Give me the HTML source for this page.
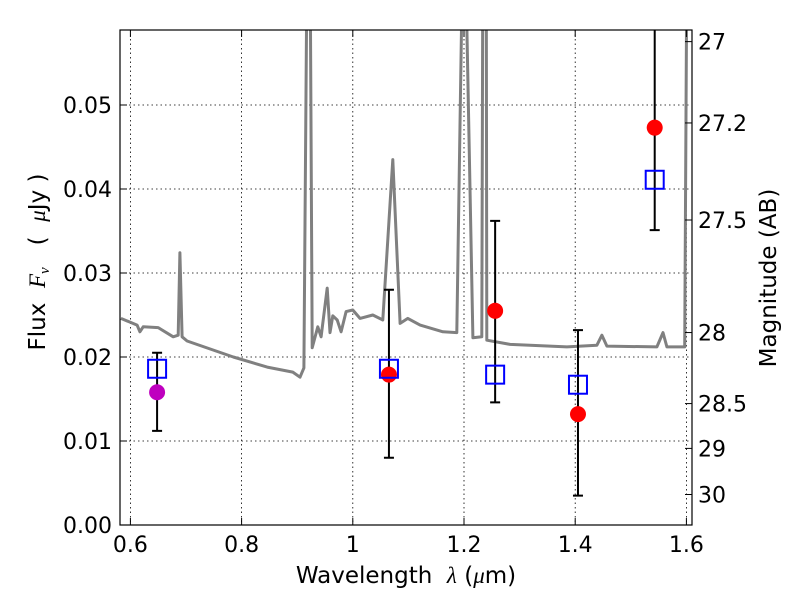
<!DOCTYPE html>
<html><head><meta charset="utf-8">
<style>
body{margin:0;background:#fff;}
svg{display:block;font-family:"DejaVu Sans","Liberation Sans",sans-serif;}
.pre{white-space:pre;}
</style></head>
<body>
<svg id="chart" width="800" height="600" viewBox="0 0 800 600">
<defs><clipPath id="plotclip"><rect x="120" y="30" width="572" height="495"/></clipPath></defs>
<rect x="0" y="0" width="800" height="600" fill="#fff"/>
<g id="grid"></g>
<g id="spec" clip-path="url(#plotclip)"></g>
<g id="pts" clip-path="url(#plotclip)"></g>
<rect x="120" y="30" width="572" height="495" fill="none" stroke="#000" stroke-width="1.2"/>
<g id="axes"></g>
<text class="pre" x="406" y="583" font-size="23" text-anchor="middle">Wavelength  <tspan font-family="Liberation Serif, serif" font-style="italic">λ</tspan> (<tspan font-family="Liberation Serif, serif" font-style="italic">μ</tspan>m)</text>
<text class="pre" transform="translate(45,262) rotate(-90)" font-size="23" text-anchor="middle">Flux  <tspan font-family="Liberation Serif, serif" font-style="italic">F<tspan font-size="15" dy="4">ν</tspan></tspan><tspan dy="-4">   (  </tspan><tspan font-family="Liberation Serif, serif" font-style="italic">μ</tspan>Jy )</text>
<text transform="translate(776,278) rotate(-90)" font-size="23" text-anchor="middle">Magnitude (AB)</text>
</svg>
<script>
const specW=[0.583,0.612,0.617,0.623,0.650,0.677,0.686,0.689,0.693,0.702,0.785,0.846,0.892,0.905,0.912,0.918,0.923,0.927,0.937,0.943,0.954,0.959,0.964,0.972,0.979,0.988,1.000,1.013,1.036,1.054,1.072,1.085,1.099,1.121,1.162,1.187,1.198,1.202,1.216,1.232,1.234,1.240,1.241,1.283,1.385,1.439,1.448,1.457,1.547,1.558,1.565,1.597,1.601];
const specF=[0.0246,0.0238,0.0230,0.0236,0.0235,0.0224,0.0226,0.0324,0.0224,0.0219,0.0200,0.0188,0.0182,0.0176,0.0187,0.07,0.07,0.0211,0.0236,0.0224,0.0282,0.0229,0.0249,0.0244,0.0230,0.0254,0.0256,0.0246,0.0250,0.0244,0.0435,0.0240,0.0246,0.0238,0.0230,0.0229,0.07,0.07,0.0223,0.0224,0.07,0.07,0.0220,0.0215,0.0212,0.0214,0.0226,0.0213,0.0212,0.0229,0.0212,0.0212,0.07];
const bandW=[0.648,1.065,1.256,1.405,1.543];
const modelF=[0.0186,0.0186,0.0179,0.0167,0.0411];
const obsF=[0.0158,0.0179,0.0255,0.0132,0.0473];
const obsColor=['#bf00bf','red','red','red','red'];
const errHi=[0.0205,0.028,0.0362,0.0232,0.07];
const errLo=[0.0112,0.008,0.0146,0.0035,0.0351];
const xTicks=[0.6,0.8,1.0,1.2,1.4,1.6];
const xTickLabels=['0.6','0.8','1','1.2','1.4','1.6'];
const yTicks=[0,0.01,0.02,0.03,0.04,0.05];
const yTickLabels=['0.00','0.01','0.02','0.03','0.04','0.05'];
const magTicks=[27,27.2,27.5,28,28.5,29,30];
const magTickLabels=['27','27.2','27.5','28','28.5','29','30'];

const NS='http://www.w3.org/2000/svg';
const X=w=>130.4+(w-0.6)*556;
const Y=f=>525-f*8400;
const magToF=m=>Math.pow(10,(23.9-m)/2.5);
function mk(tag,attrs,parent){const e=document.createElementNS(NS,tag);for(const k in attrs)e.setAttribute(k,attrs[k]);parent.appendChild(e);return e;}
const grid=document.getElementById('grid'),axes=document.getElementById('axes'),spec=document.getElementById('spec'),pts=document.getElementById('pts');

xTicks.forEach((t,i)=>{
  const x=X(t);
  let g=mk('line',{x1:x,x2:x,y1:30,y2:525,stroke:'#000','stroke-width':0.8,'stroke-dasharray':'1.5,3'},grid);
  
  
  mk('line',{x1:x,x2:x,y1:525,y2:518,stroke:'#000'},axes);
  mk('line',{x1:x,x2:x,y1:30,y2:37,stroke:'#000'},axes);
  let l=mk('text',{x:x,y:552,'font-size':22,'text-anchor':'middle'},axes);
  l.textContent=xTickLabels[i];
  
  
});
yTicks.forEach((t,i)=>{
  const y=Y(t);
  let g=mk('line',{x1:120,x2:692,y1:y,y2:y,stroke:'#000','stroke-width':0.8,'stroke-dasharray':'1.5,3'},grid);
  
  
  mk('line',{x1:120,x2:127,y1:y,y2:y,stroke:'#000'},axes);
  let l=mk('text',{x:112,y:y+8,'font-size':22,'text-anchor':'end'},axes);
  l.textContent=yTickLabels[i];
  
  
});
magTicks.forEach((m,i)=>{
  const y=Y(magToF(m));
  mk('line',{x1:685,x2:692,y1:y,y2:y,stroke:'#000'},axes);
  let l=mk('text',{x:698,y:y+8,'font-size':22},axes);
  l.textContent=magTickLabels[i];
  
  
});

let d=specW.map((w,i)=>(i?'L':'M')+X(w).toFixed(1)+','+Y(specF[i]).toFixed(1)).join('');
let sp=mk('path',{d:d,fill:'none',stroke:'#808080','stroke-width':3,'stroke-linejoin':'round'},spec);



bandW.forEach((w,i)=>{
  const x=X(w);
  let e=mk('path',{d:`M${x},${Y(errHi[i])}L${x},${Y(errLo[i])}M${x-5},${Y(errHi[i])}L${x+5},${Y(errHi[i])}M${x-5},${Y(errLo[i])}L${x+5},${Y(errLo[i])}`,stroke:'#000','stroke-width':2,fill:'none'},pts);
  
  
  let c=mk('circle',{cx:x,cy:Y(obsF[i]),r:8,fill:obsColor[i]},pts);
  
  
  let s=mk('rect',{x:x-9,y:Y(modelF[i])-9,width:18,height:18,fill:'none',stroke:'#0000ff','stroke-width':2},pts);
  
  
});
</script>
</body></html>
